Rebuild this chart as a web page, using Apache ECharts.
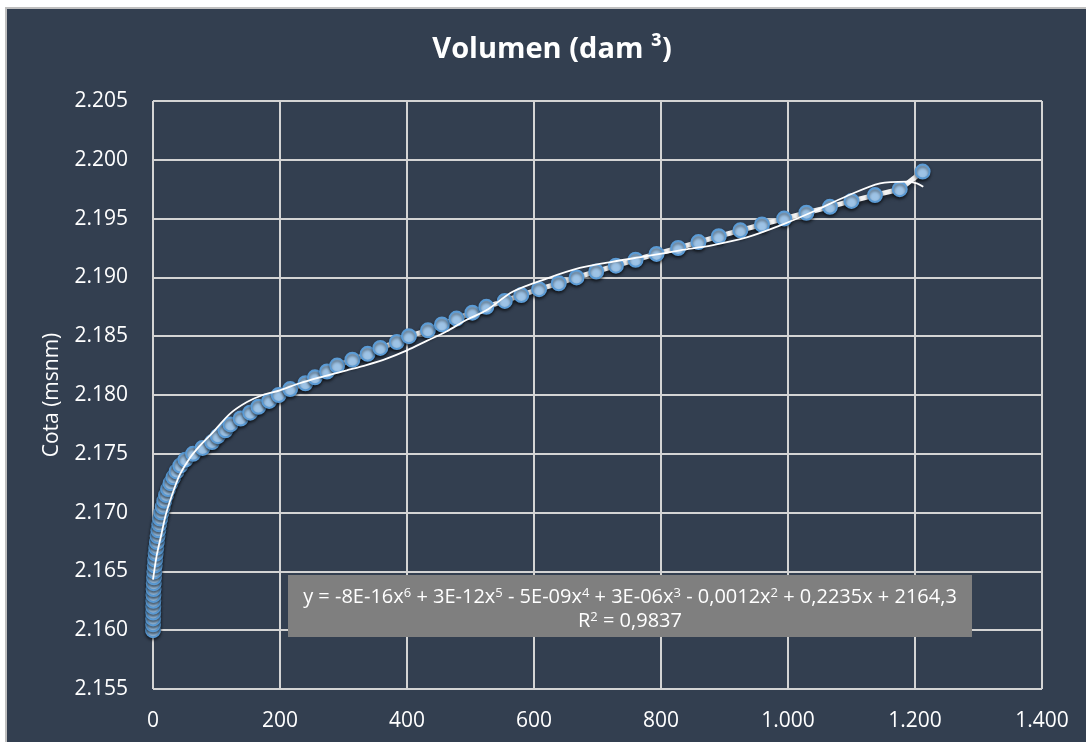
<!DOCTYPE html>
<html>
<head>
<meta charset="utf-8">
<script src="https://cdn.jsdelivr.net/npm/echarts@6/dist/echarts.min.js"></script>
<style>
html,body{margin:0;padding:0;background:#ffffff;width:1086px;height:742px;overflow:hidden;}
#chart{position:absolute;left:5px;top:7px;width:1079px;height:733px;border-left:2px solid #bfbfbf;border-top:2px solid #bfbfbf;}
</style>
</head>
<body>
<div id="chart"></div>
<script>
// Cota (msnm)
const cota = [2160,2160.5,2161,2161.5,2162,2162.5,2163,2163.5,2164,2164.5,
  2165,2165.5,2166,2166.5,2167,2167.5,2168,2168.5,2169,2169.5,
  2170,2170.5,2171,2171.5,2172,2172.5,2173,2173.5,2174,2174.5,
  2175,2175.5,2176,2176.5,2177,2177.5,2178,2178.5,2179,2179.5,
  2180,2180.5,2181,2181.5,2182,2182.5,2183,2183.5,2184,2184.5,
  2185,2185.5,2186,2186.5,2187,2187.5,2188,2188.5,2189,2189.5,
  2190,2190.5,2191,2191.5,2192,2192.5,2193,2193.5,2194,2194.5,
  2195,2195.5,2196,2196.5,2197,2197.5,2199];
// Volumen (dam3)
const volumen = [0,0.1,0.2,0.3,0.4,0.5,0.7,0.9,1.2,1.6,
  2.1,2.7,3.4,4.2,5.1,6.1,7.2,8.4,9.8,11.4,
  13.2,15.4,17.8,20.6,23.8,27.6,32,37,43,51,
  63,78,93,102,114,122,138,153,166,183,
  198,216,240,255,274,290,314,338,358,384,
  403,433,455,478,503,525,554,580,608,639,
  667,698,729,760,793,827,859,891,925,959,
  994,1029,1066,1100,1137,1176,1212];
// Polynomial trendline as seen in the picture
const trendX = [0,6,13,20,30,42,58,74,94,121,148,173,200,231,263,305,336,368,400,431,462,494,525,567,620,672,725,777,830,882,935,987,1040,1092,1145,1187,1203,1213];
const trendY = [2164.3,2166.4,2168.1,2169.8,2171.5,2173.2,2174.65,2175.7,2176.8,2178.4,2179.4,2180.0,2180.4,2181.0,2181.5,2182.1,2182.55,2183.1,2183.8,2184.6,2185.4,2186.4,2187.2,2188.8,2189.9,2190.8,2191.35,2191.8,2192.3,2192.75,2193.4,2194.4,2195.6,2196.9,2198.0,2198.15,2198.0,2197.7];

const titleText = 'Volumen (dam ³)';
const yName = 'Cota (msnm)';
const eqLine1 = 'y = -8E-16x{s|6} + 3E-12x{s|5} - 5E-09x{s|4} + 3E-06x{s|3} - 0,0012x{s|2} + 0,2235x + 2164,3';
const eqLine2 = 'R{s|2} = 0,9837';

const fmt = v => Math.round(v).toString().replace(/\B(?=(\d{3})+(?!\d))/g, '.');
const FONT = '"Open Sans", "Noto Sans", sans-serif';

const chart = echarts.init(document.getElementById('chart'), null, {renderer: 'canvas'});
const supRich = {s: {fontSize: 13, fontFamily: FONT, fill: '#ffffff', color: '#ffffff', verticalAlign: 'top', lineHeight: 16}};

chart.setOption({
  animation: false,
  backgroundColor: '#333F50',
  grid: {left: 146, right: 44, top: 92, bottom: 53, containLabel: false},
  xAxis: {
    type: 'value', min: 0, max: 1400, interval: 200,
    axisLine: {show: false}, axisTick: {show: false},
    splitLine: {show: true, lineStyle: {color: '#d4d4d4', width: 2}},
    axisLabel: {color: '#ffffff', fontSize: 21, fontFamily: FONT, margin: 22, formatter: fmt}
  },
  yAxis: {
    type: 'value', min: 2155, max: 2205, interval: 5,
    axisLine: {show: false}, axisTick: {show: false},
    splitLine: {show: true, lineStyle: {color: '#d4d4d4', width: 2}},
    axisLabel: {color: '#ffffff', fontSize: 21, fontFamily: FONT, margin: 25, formatter: fmt}
  },
  series: [
    {
      type: 'line',
      data: volumen.map((v, i) => [v, cota[i]]),
      symbol: 'circle', symbolSize: 14,
      lineStyle: {color: '#f2f2f2', width: 5, shadowColor: 'rgba(0,0,0,0.55)', shadowBlur: 4, shadowOffsetY: 3},
      itemStyle: {color: '#9dc3e6', borderColor: '#5b9bd5', borderWidth: 2, shadowColor: 'rgba(0,0,0,0.5)', shadowBlur: 3, shadowOffsetY: 2},
      z: 2
    },
    {
      type: 'line',
      data: trendX.map((v, i) => [v, trendY[i]]),
      showSymbol: false, symbol: 'none', smooth: 0.3,
      lineStyle: {color: '#ffffff', width: 1.8},
      z: 3, silent: true
    }
  ],
  graphic: [
    {type: 'text', x: 545, y: 41, z: 10,
     style: {text: titleText, font: 'bold 29px ' + FONT, fill: '#ffffff', align: 'center', verticalAlign: 'middle'}},
    {type: 'text', x: 45, y: 386, rotation: Math.PI / 2, z: 10,
     style: {text: yName, font: '21px ' + FONT, fill: '#ffffff', align: 'center', verticalAlign: 'middle'}},
    {type: 'rect', shape: {x: 281, y: 566, width: 684, height: 62}, z: 10,
     style: {fill: '#7f7f7f'}},
    {type: 'text', x: 623, y: 588, z: 11,
     style: {text: eqLine1, font: '20px ' + FONT, fill: '#ffffff', align: 'center', verticalAlign: 'middle', rich: supRich}},
    {type: 'text', x: 623, y: 612, z: 11,
     style: {text: eqLine2, font: '20px ' + FONT, fill: '#ffffff', align: 'center', verticalAlign: 'middle', rich: supRich}}
  ]
});
</script>
</body>
</html>
